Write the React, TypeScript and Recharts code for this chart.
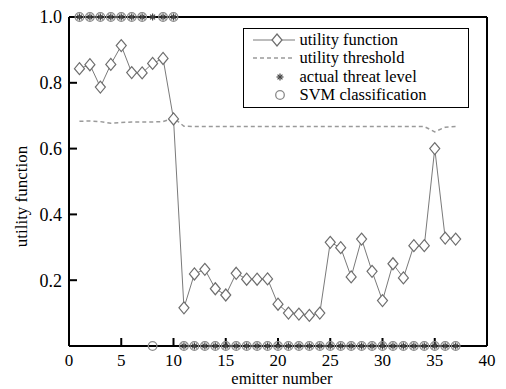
import React from 'react';
import {ComposedChart, Legend, Line, ReferenceLine, Scatter, XAxis, YAxis} from 'recharts';

const emitters = [1, 2, 3, 4, 5, 6, 7, 8, 9, 10, 11, 12, 13, 14, 15, 16, 17, 18, 19, 20, 21, 22, 23, 24, 25, 26, 27, 28, 29, 30, 31, 32, 33, 34, 35, 36, 37];
const utilityValues = [0.843, 0.855, 0.787, 0.856, 0.913, 0.831, 0.83, 0.859, 0.874, 0.69, 0.116, 0.219, 0.233, 0.174, 0.155, 0.221, 0.203, 0.203, 0.204, 0.127, 0.1, 0.097, 0.093, 0.1, 0.315, 0.299, 0.21, 0.325, 0.227, 0.138, 0.25, 0.207, 0.305, 0.305, 0.6, 0.328, 0.325];
const thresholdValues = [0.683, 0.684, 0.682, 0.677, 0.679, 0.681, 0.681, 0.681, 0.682, 0.693, 0.668, 0.667, 0.667, 0.667, 0.667, 0.667, 0.667, 0.667, 0.667, 0.667, 0.667, 0.667, 0.667, 0.667, 0.667, 0.667, 0.667, 0.667, 0.667, 0.667, 0.667, 0.667, 0.667, 0.667, 0.651, 0.665, 0.667];
const threatLevels = [1, 1, 1, 1, 1, 1, 1, 1, 1, 1, 0, 0, 0, 0, 0, 0, 0, 0, 0, 0, 0, 0, 0, 0, 0, 0, 0, 0, 0, 0, 0, 0, 0, 0, 0, 0, 0];
const svmClasses = [1, 1, 1, 1, 1, 1, 1, 0, 1, 1, 0, 0, 0, 0, 0, 0, 0, 0, 0, 0, 0, 0, 0, 0, 0, 0, 0, 0, 0, 0, 0, 0, 0, 0, 0, 0, 0];
const xTicks = [0, 5, 10, 15, 20, 25, 30, 35, 40];
const yTicks = [0.2, 0.4, 0.6, 0.8, 1.0];

const data = emitters.map((e, i) => ({
    emitter: e,
    utility: utilityValues[i],
    threshold: thresholdValues[i],
    threat: threatLevels[i],
    svm: svmClasses[i],
}));

const FONT = 'Liberation Serif, Times New Roman, serif';

const Diamond = ({cx, cy}: any) => {
    if (cx == null || cy == null) return null;
    return <path d={`M${cx},${cy - 6} L${cx + 5},${cy} L${cx},${cy + 6} L${cx - 5},${cy} Z`}
                 fill="#fff" stroke="#6e6e6e" strokeWidth={1.2}/>;
};

const Asterisk = ({cx, cy}: any) => {
    const r = 3.5;
    return (
        <g stroke="#444" strokeWidth={1.2}>
            <line x1={cx - r} y1={cy} x2={cx + r} y2={cy}/>
            <line x1={cx} y1={cy - r} x2={cx} y2={cy + r}/>
            <line x1={cx - r * 0.7} y1={cy - r * 0.7} x2={cx + r * 0.7} y2={cy + r * 0.7}/>
            <line x1={cx - r * 0.7} y1={cy + r * 0.7} x2={cx + r * 0.7} y2={cy - r * 0.7}/>
        </g>
    );
};

const OpenCircle = ({cx, cy}: any) => (
    <circle cx={cx} cy={cy} r={4.3} fill="none" stroke="#8a8a8a" strokeWidth={1.3}/>
);

const legendItems = [
    {label: 'utility function', kind: 'diamond'},
    {label: 'utility threshold', kind: 'dashed'},
    {label: 'actual threat level', kind: 'asterisk'},
    {label: 'SVM classification', kind: 'circle'},
];

// legend box drawn as html over the plot, top right
const renderLegend = () => (
    <div style={{
        border: '1.5px solid #000', boxSizing: 'border-box', width: 226, height: 80,
        paddingTop: 2, background: '#fff', fontFamily: FONT, fontSize: 16.5, color: '#000'
    }}>
        {legendItems.map((item) => (
            <div key={item.label} style={{display: 'flex', alignItems: 'center', height: 18.3}}>
                <svg width={55.5} height={18} style={{flexShrink: 0}}>
                    {item.kind === 'diamond' && (
                        <g>
                            <line x1={9} y1={9} x2={51} y2={9} stroke="#7a7a7a" strokeWidth={1}/>
                            <Diamond cx={33} cy={9}/>
                        </g>
                    )}
                    {item.kind === 'dashed' && (
                        <line x1={9} y1={9} x2={51} y2={9} stroke="#9a9a9a" strokeWidth={1.5} strokeDasharray="4 3"/>
                    )}
                    {item.kind === 'asterisk' && <Asterisk cx={36} cy={9}/>}
                    {item.kind === 'circle' && <OpenCircle cx={36} cy={9}/>}
                </svg>
                <span style={{lineHeight: '18.3px', whiteSpace: 'nowrap'}}>{item.label}</span>
            </div>
        ))}
    </div>
);

const App = () => {
    return (
        <div style={{position: 'absolute', left: 0, top: 0, background: '#fff', fontFamily: FONT}}>
            <ComposedChart width={506} height={389} data={data}
                           margin={{top: 17, right: 19, left: 9, bottom: 0}}>
                <XAxis
                    dataKey="emitter"
                    type="number"
                    domain={[0, 40]}
                    ticks={xTicks}
                    height={43}
                    tickSize={-8}
                    tickMargin={16}
                    stroke="#000"
                    strokeWidth={2}
                    tick={{fill: '#000', fontSize: 17, fontFamily: FONT}}
                    label={{value: 'emitter number', position: 'insideBottom', offset: 5, dx: 4,
                        style: {fill: '#000', fontSize: 16.5, fontFamily: FONT}}}
                />
                <YAxis
                    type="number"
                    domain={[0, 1]}
                    ticks={yTicks}
                    width={60}
                    tickSize={-8}
                    tickMargin={15}
                    stroke="#000"
                    strokeWidth={2}
                    tickFormatter={(v) => v.toFixed(1)}
                    tick={{fill: '#000', fontSize: 18, fontFamily: FONT}}
                    label={{value: 'utility function', angle: -90, position: 'insideLeft', offset: 12, dy: 15,
                        style: {textAnchor: 'middle', fill: '#000', fontSize: 17, fontFamily: FONT}}}
                />
                <ReferenceLine y={1} stroke="#000" strokeWidth={2}/>
                <ReferenceLine x={40} stroke="#000" strokeWidth={2}/>
                <Legend content={renderLegend} layout="vertical" align="center" verticalAlign="middle"
                        wrapperStyle={{left: 243, top: 28, width: 226, height: 80}}/>
                <Line dataKey="threshold" stroke="#9a9a9a" strokeWidth={1.5} strokeDasharray="4 3"
                      dot={false} activeDot={false} isAnimationActive={false}/>
                <Line dataKey="utility" stroke="#7a7a7a" strokeWidth={1}
                      dot={<Diamond/>} activeDot={false} isAnimationActive={false}/>
                <Scatter dataKey="svm" shape={<OpenCircle/>} isAnimationActive={false}/>
                <Scatter dataKey="threat" shape={<Asterisk/>} isAnimationActive={false}/>
            </ComposedChart>
        </div>
    );
};

export default App;
